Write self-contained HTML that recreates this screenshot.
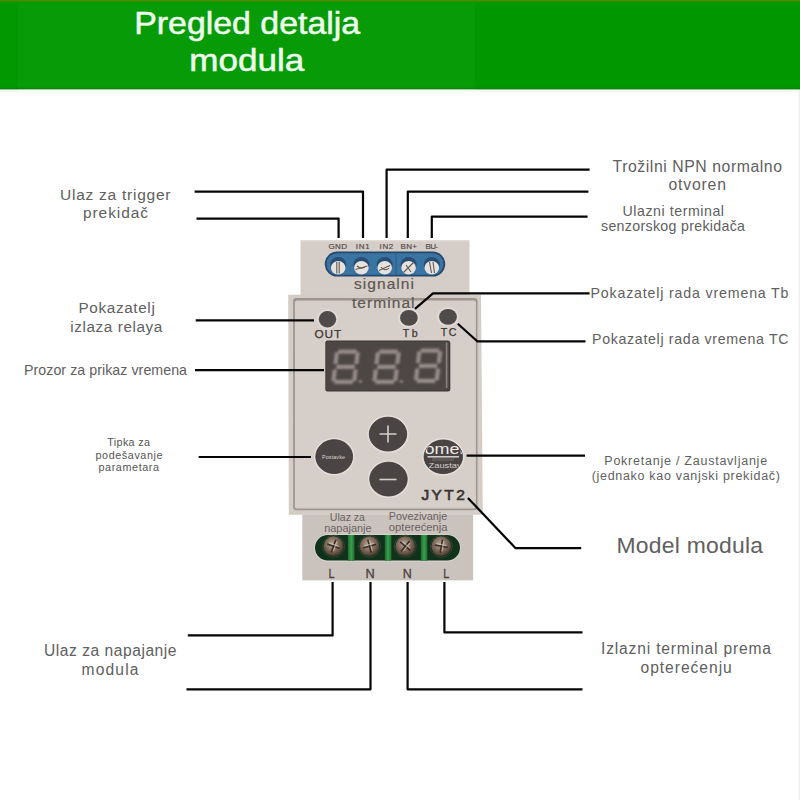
<!DOCTYPE html>
<html><head><meta charset="utf-8">
<style>
html,body{margin:0;padding:0;background:#fff;width:800px;height:800px;overflow:hidden;}
svg{display:block;}
text{font-family:"Liberation Sans",sans-serif;}
.lb{fill:#606060;}
.ln{fill:none;stroke:#050505;stroke-width:2.2;stroke-linejoin:round;}
</style></head>
<body>
<svg width="800" height="800" viewBox="0 0 800 800">
<!-- header -->
<rect x="0" y="0" width="800" height="89.5" fill="#079b07"/>
<rect x="0" y="0" width="18" height="89.5" fill="#029802"/>
<rect x="475" y="0" width="325" height="89.5" fill="#019701"/>
<rect x="0" y="0" width="800" height="1.6" fill="#4b8a05"/>
<rect x="0" y="87.8" width="800" height="1.7" fill="#11800f"/>
<rect x="0" y="89.5" width="800" height="2.5" fill="#f2fbf2"/>
<text x="134.2" y="34.1" font-size="30.5" fill="#eefcee" stroke="#eefcee" stroke-width="0.5" textLength="226" lengthAdjust="spacingAndGlyphs">Pregled detalja</text>
<text x="189.2" y="70.8" font-size="30.5" fill="#eefcee" stroke="#eefcee" stroke-width="0.5" textLength="115" lengthAdjust="spacingAndGlyphs">modula</text>

<!-- ===== DEVICE ===== -->
<!-- top block -->
<rect x="300.5" y="240.3" width="169" height="56" fill="#d5cdc7"/>
<rect x="300.5" y="240.3" width="169" height="1.2" fill="#e0dad5"/>
<!-- blue terminal -->
<rect x="324.8" y="251.6" width="120.4" height="25" rx="12.5" fill="#25486b"/>
<rect x="326.6" y="253.2" width="116.8" height="21.6" rx="10.8" fill="#3a74a3"/>
<line x1="396" y1="253" x2="396" y2="275" stroke="#2a5a86" stroke-width="1"/>
<g fill="#284e74">
<ellipse cx="338.2" cy="264.5" rx="8" ry="7.5"/>
<ellipse cx="361.4" cy="264.5" rx="8" ry="7.5"/>
<ellipse cx="384.7" cy="264.5" rx="8" ry="7.5"/>
<ellipse cx="408.6" cy="264.5" rx="8" ry="7.5"/>
<ellipse cx="431.8" cy="264.5" rx="8" ry="7.5"/>
</g>
<g fill="#e6e2dd">
<ellipse cx="338.2" cy="267.8" rx="7.3" ry="6.7"/>
<ellipse cx="361.4" cy="267.8" rx="7.3" ry="6.7"/>
<ellipse cx="384.7" cy="267.8" rx="7.3" ry="6.7"/>
<ellipse cx="408.6" cy="267.8" rx="7.3" ry="6.7"/>
<ellipse cx="431.8" cy="267.8" rx="7.3" ry="6.7"/>
</g>
<g stroke="#5f5853" stroke-width="1.1" fill="none">
<path d="M336.8 262v11.5M339.2 262v11.5"/>
<path d="M355.5 269.5l12-3.5M357 266c3 3 7 3 9 0"/>
<path d="M379 270.5l11-5M381 267c2 3 6 4 8 1"/>
<path d="M403.5 272.5l10-10M406 265l5 7"/>
<path d="M429.5 262l2 11M433 262l1.5 11"/>
</g>
<g font-size="8" fill="#4d4441" stroke="#4d4441" stroke-width="0.15">
<text x="328.5" y="248.8" textLength="18.5">GND</text>
<text x="355.8" y="248.8" textLength="14">IN1</text>
<text x="379.6" y="248.8" textLength="13.6">IN2</text>
<text x="400.6" y="248.8" textLength="16.2">BN+</text>
<text x="425.4" y="248.8" textLength="12.6">BU-</text>
</g>
<text x="354" y="288.6" font-size="15.5" fill="#5d5653" stroke="#5d5653" stroke-width="0.2" textLength="60">signalni</text>

<!-- main body -->
<path d="M288.2 294.8H481L482.8 514.8H288.8Z" fill="#d4ccc6"/>
<rect x="293.1" y="298.0" width="184.4" height="212.2" rx="3" fill="#a0958e"/>
<rect x="294.9" y="300.4" width="181" height="208.2" rx="2.2" fill="#d6cec8"/>
<text x="352" y="308.25" font-size="15.5" fill="#5d5653" stroke="#5d5653" stroke-width="0.2" textLength="62.5">terminal</text>

<!-- LEDs -->
<g fill="none" stroke="#e2dcd8" stroke-width="1.4">
<ellipse cx="327.5" cy="319.3" rx="9.9" ry="9.4"/>
<ellipse cx="408.9" cy="317.9" rx="10" ry="9.1"/>
<ellipse cx="448" cy="316.8" rx="10.1" ry="9.1"/>
</g>
<g fill="#4f4b4a">
<ellipse cx="327.5" cy="319.3" rx="8.7" ry="8.2"/>
<ellipse cx="408.9" cy="317.9" rx="8.8" ry="7.9"/>
<ellipse cx="448" cy="316.8" rx="8.9" ry="7.9"/>
</g>
<g fill="#3c3634" stroke="#3c3634" stroke-width="0.25">
<text x="314.5" y="338.4" font-size="11.8" textLength="26.6">OUT</text>
<text x="402.8" y="337" font-size="10.6" textLength="14.8">Tb</text>
<text x="440.8" y="336.4" font-size="10.6" textLength="15.6">TC</text>
</g>

<!-- display -->
<rect x="325.3" y="340.5" width="125" height="51" rx="2.5" fill="#3d3837"/>
<rect x="326.3" y="341.5" width="123" height="49" rx="2" fill="#4c4645"/>
<rect x="445.8" y="342.5" width="1.6" height="45.5" fill="#8a8381"/>
<defs><path id="seg" d="M3.2 0.0H21.8V4.2H3.2ZM20.8 2.8H25.0V14.5H20.8ZM20.8 20.1H25.0V31.7H20.8ZM3.2 30.3H21.8V34.5H3.2ZM0.0 20.1H4.2V31.7H0.0ZM0.0 2.8H4.2V14.5H0.0ZM3.2 15.2H21.8V19.4H3.2Z"/><filter id="bl" x="-20%" y="-20%" width="140%" height="140%"><feGaussianBlur stdDeviation="0.8"/></filter></defs>
<g fill="#958c89" filter="url(#bl)">
<use href="#seg" transform="translate(331 383.5) skewX(-7) translate(0 -34)"/>
<use href="#seg" transform="translate(372 383.5) skewX(-7) translate(0 -34)"/>
<use href="#seg" transform="translate(413.5 382.5) skewX(-7) translate(0 -34)"/>
<circle cx="360.5" cy="381.5" r="1.6"/>
<circle cx="401.5" cy="381.5" r="1.6"/>
</g>

<!-- buttons -->
<g fill="none" stroke="#e3dedb" stroke-width="1.6">
<ellipse cx="334.2" cy="456.6" rx="19.6" ry="18.1"/>
<ellipse cx="388" cy="434.1" rx="19.9" ry="18.1"/>
<ellipse cx="388.5" cy="479.1" rx="19.9" ry="18.1"/>
<ellipse cx="443.3" cy="456.8" rx="20.4" ry="18"/>
</g>
<g fill="#4a4544" stroke="#3a3534" stroke-width="0.8">
<ellipse cx="334.2" cy="456.6" rx="18.4" ry="16.9"/>
<ellipse cx="388" cy="434.1" rx="18.7" ry="16.9"/>
<ellipse cx="388.5" cy="479.1" rx="18.7" ry="16.9"/>
<ellipse cx="443.3" cy="456.8" rx="19.2" ry="16.8"/>
</g>
<g stroke="#d6d0cd" stroke-width="1.6">
<path d="M379.5 434h17M388 425.5v17"/>
<path d="M379.5 479.5h17"/>
</g>
<text x="322" y="459" font-size="5.5" fill="#d8d2cf" textLength="23">Postavke</text>
<clipPath id="rb"><ellipse cx="443.3" cy="456.8" rx="19" ry="16.6"/></clipPath>
<g clip-path="url(#rb)">
<text x="424.5" y="453.8" font-size="15.5" fill="#efeceb" textLength="39" lengthAdjust="spacingAndGlyphs">omel</text>
<rect x="427.5" y="456.1" width="31.5" height="1.4" fill="#e0dcda"/>
<rect x="432" y="458" width="22" height="3" fill="#6a6463" opacity="0.6"/>
<text x="428.6" y="467.6" font-size="8" fill="#d3cecc" textLength="33" lengthAdjust="spacingAndGlyphs">Zaustav</text>
</g>
<text x="421.4" y="499.9" font-size="15.4" fill="#3b3533" stroke="#3b3533" stroke-width="0.7" textLength="43.4" letter-spacing="0">JYT2</text>

<!-- bottom block -->
<rect x="302.3" y="514.5" width="170.8" height="65.9" fill="#cac2bd"/>
<defs>
<radialGradient id="scr" cx="0.45" cy="0.4" r="0.65">
<stop offset="0" stop-color="#b9aa9a"/>
<stop offset="0.55" stop-color="#7a6656"/>
<stop offset="1" stop-color="#3e3128"/>
</radialGradient>
<linearGradient id="gsep" x1="0" x2="1">
<stop offset="0" stop-color="#1f6a30"/><stop offset="0.5" stop-color="#39a04e"/><stop offset="1" stop-color="#1f6a30"/>
</linearGradient>
</defs>
<g font-size="10.8" fill="#6a6361">
<text x="329.8" y="520.8" textLength="35.2" lengthAdjust="spacingAndGlyphs">Ulaz za</text>
<text x="324.2" y="532.4" textLength="47.4" lengthAdjust="spacingAndGlyphs">napajanje</text>
<text x="388.8" y="520" textLength="58.4" lengthAdjust="spacingAndGlyphs">Povezivanje</text>
<text x="388.8" y="531.2" textLength="58.8" lengthAdjust="spacingAndGlyphs">opterećenja</text>
</g>
<!-- green terminal -->
<rect x="314.2" y="534.2" width="146.6" height="27.2" rx="13.6" fill="#dcd8d2"/>
<rect x="315" y="535" width="145" height="25.6" rx="12.8" fill="#10311a"/>
<g fill="url(#gsep)">
<rect x="347.9" y="535" width="6.6" height="25.6"/>
<rect x="384.8" y="535" width="6.6" height="25.6"/>
<rect x="420.8" y="535" width="6.6" height="25.6"/>
</g>
<g transform="translate(333.5 546.2)">
<circle r="11" fill="#1b2a1d" stroke="#3d5a40" stroke-width="0.6"/>
<circle r="9.9" fill="url(#scr)"/>
<g transform="rotate(20)" stroke="#3b2f27" stroke-width="1.6" stroke-linecap="round"><path d="M-6 0H6M0 -6V6"/></g>
<g transform="rotate(20)" stroke="#d9cfc4" stroke-width="0.8" opacity="0.8"><path d="M-5.5 -1.6H5M1.6 -5.5V5"/></g>
</g>
<g transform="translate(369.5 546.2)">
<circle r="11" fill="#1b2a1d" stroke="#3d5a40" stroke-width="0.6"/>
<circle r="9.9" fill="url(#scr)"/>
<g transform="rotate(-15)" stroke="#3b2f27" stroke-width="1.6" stroke-linecap="round"><path d="M-6 0H6M0 -6V6"/></g>
<g transform="rotate(-15)" stroke="#d9cfc4" stroke-width="0.8" opacity="0.8"><path d="M-5.5 -1.6H5M1.6 -5.5V5"/></g>
</g>
<g transform="translate(405.3 546.2)">
<circle r="11" fill="#1b2a1d" stroke="#3d5a40" stroke-width="0.6"/>
<circle r="9.9" fill="url(#scr)"/>
<g transform="rotate(40)" stroke="#3b2f27" stroke-width="1.6" stroke-linecap="round"><path d="M-6 0H6M0 -6V6"/></g>
<g transform="rotate(40)" stroke="#d9cfc4" stroke-width="0.8" opacity="0.8"><path d="M-5.5 -1.6H5M1.6 -5.5V5"/></g>
</g>
<g transform="translate(441.3 546.2)">
<circle r="11" fill="#1b2a1d" stroke="#3d5a40" stroke-width="0.6"/>
<circle r="9.9" fill="url(#scr)"/>
<g transform="rotate(10)" stroke="#3b2f27" stroke-width="1.6" stroke-linecap="round"><path d="M-6 0H6M0 -6V6"/></g>
<g transform="rotate(10)" stroke="#d9cfc4" stroke-width="0.8" opacity="0.8"><path d="M-5.5 -1.6H5M1.6 -5.5V5"/></g>
</g>
<g fill="#4b403d" stroke="#4b403d" stroke-width="0.3">
<text x="328.6" y="577.8" font-size="12.5" textLength="6" lengthAdjust="spacingAndGlyphs">L</text>
<text x="365.4" y="577.8" font-size="12.5" textLength="9.2" lengthAdjust="spacingAndGlyphs">N</text>
<text x="402.8" y="577.8" font-size="12.5" textLength="9" lengthAdjust="spacingAndGlyphs">N</text>
<text x="443.3" y="577.8" font-size="12.5" textLength="6" lengthAdjust="spacingAndGlyphs">L</text>
</g>
<rect x="798.6" y="90" width="1.4" height="710" fill="#f1eeee"/>

<!-- ===== LINES ===== -->
<g class="ln">
<path d="M194.6 191.6H363V238"/>
<path d="M196.5 218.6H338.6V238"/>
<path d="M589.6 169.7H386.6V238"/>
<path d="M588.4 191.6H407.8V238"/>
<path d="M587.6 216.6H431.8V238"/>
<path d="M195.7 320.3H314"/>
<path d="M589.6 293.3H433L415 308.8"/>
<path d="M457.8 323.7L477.2 341.3H585.5"/>
<path d="M195 370.2H324"/>
<path d="M198.7 457H311"/>
<path d="M466.6 455.6H585"/>
<path d="M467.9 497.9L515.6 548.2H581.2"/>
<path d="M332.6 582V635.4H187.8"/>
<path d="M370.5 582V689.3H186.5"/>
<path d="M407.6 582V689.3H582.5"/>
<path d="M444.4 582V632.4H582.5"/>
</g>

<!-- ===== LABELS ===== -->
<g class="lb">
<text x="60" y="199.75" font-size="15.5" textLength="110.5">Ulaz za trigger</text>
<text x="83" y="218.4" font-size="15.5" textLength="65">prekidač</text>
<text x="612.5" y="171.75" font-size="15.8" textLength="169.5">Trožilni NPN normalno</text>
<text x="668.5" y="190.4" font-size="15.8" textLength="57.5">otvoren</text>
<text x="622.5" y="215.75" font-size="14.2" textLength="101.5">Ulazni terminal</text>
<text x="601" y="230.8" font-size="14.2" textLength="144">senzorskog prekidača</text>
<text x="78.5" y="312.75" font-size="15.3" textLength="76.3">Pokazatelj</text>
<text x="70.3" y="331.6" font-size="15.3" textLength="92">izlaza relaya</text>
<text x="24" y="374.75" font-size="14.2" textLength="163">Prozor za prikaz vremena</text>
<text x="590.5" y="297.75" font-size="14.2" textLength="198">Pokazatelj rada vremena Tb</text>
<text x="592" y="343.75" font-size="14.2" textLength="196.5">Pokazatelj rada vremena TC</text>
<text x="107.3" y="445.75" font-size="10.8" textLength="42.7" fill="#545454">Tipka za</text>
<text x="95.5" y="458.8" font-size="10.8" textLength="67" fill="#545454">podešavanje</text>
<text x="98.5" y="471.25" font-size="10.8" textLength="60.5" fill="#545454">parametara</text>
<text x="604.3" y="464.75" font-size="12.5" textLength="162.8">Pokretanje / Zaustavljanje</text>
<text x="591.7" y="479.5" font-size="12.5" textLength="188.2">(jednako kao vanjski prekidač)</text>
<text x="616.5" y="552.75" font-size="22.9" textLength="146.5">Model modula</text>
<text x="44" y="655.75" font-size="15.6" textLength="132.5">Ulaz za napajanje</text>
<text x="81.5" y="675" font-size="15.6" textLength="57">modula</text>
<text x="601" y="653.75" font-size="15.6" textLength="170">Izlazni terminal prema</text>
<text x="640.5" y="672.8" font-size="15.6" textLength="91.3">opterećenju</text>
</g>
</svg>
</body></html>
